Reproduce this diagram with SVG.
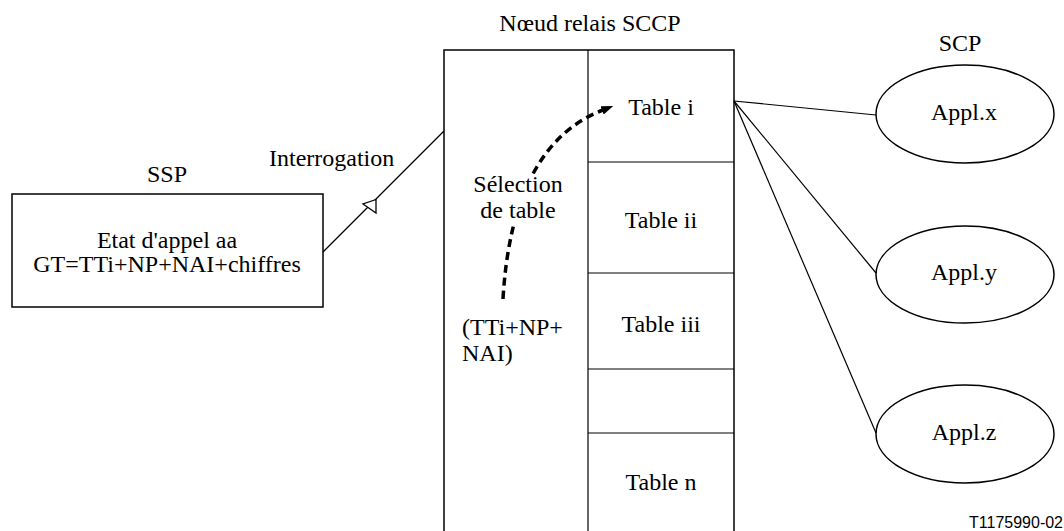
<svg xmlns="http://www.w3.org/2000/svg" width="1064" height="531" viewBox="0 0 1064 531" font-family="'Liberation Serif', 'Times New Roman', serif" font-size="24">
<style>
text{font-family:'Liberation Serif','Times New Roman',serif;font-size:24px;fill:#000}
.c{text-anchor:middle}
.box{fill:#fff;stroke:#000;stroke-width:1.5}
.ln{fill:none;stroke:#000;stroke-width:1.2}
.dash{fill:none;stroke:#000;stroke-width:3.5;stroke-dasharray:8 5}
text.code{font-family:'Liberation Sans',Arial,sans-serif;font-size:16px}
</style>
<defs>
<marker id="solid" markerWidth="12" markerHeight="10" refX="1" refY="5" orient="auto" markerUnits="userSpaceOnUse">
<path d="M0,0.5 L12,5 L0,9.5 Z" fill="#000"/>
</marker>
</defs>
<rect width="1064" height="531" fill="#fff"/>

<g id="ssp">
<text class="c" x="167" y="182">SSP</text>
<rect class="box" x="12" y="194" width="311" height="113"/>
<text class="c" x="167" y="248">Etat d'appel aa</text>
<text class="c" x="167" y="272">GT=TTi+NP+NAI+chiffres</text>
</g>

<g id="sccp">
<text class="c" x="590" y="31">Nœud relais SCCP</text>
<rect class="box" x="444" y="50" width="290" height="490"/>
<line class="ln" x1="588" y1="50" x2="588" y2="531" stroke-width="1.5"/>
<line class="ln" x1="588" y1="162" x2="734" y2="162" stroke-width="1.5"/>
<line class="ln" x1="588" y1="273" x2="734" y2="273" stroke-width="1.5"/>
<line class="ln" x1="588" y1="369" x2="734" y2="369" stroke-width="1.5"/>
<line class="ln" x1="588" y1="433" x2="734" y2="433" stroke-width="1.5"/>
<text class="c" x="661" y="115">Table i</text>
<text class="c" x="661" y="228">Table ii</text>
<text class="c" x="661" y="332">Table iii</text>
<text class="c" x="661" y="490">Table n</text>
</g>

<g id="scp">
<text class="c" x="960" y="51">SCP</text>
</g>
<g id="applx">
<ellipse class="box" cx="965" cy="114" rx="89" ry="49"/>
<text class="c" x="964" y="120">Appl.x</text>
</g>
<g id="apply">
<ellipse class="box" cx="965" cy="274.5" rx="89" ry="48.5"/>
<text class="c" x="964" y="280">Appl.y</text>
</g>
<g id="applz">
<ellipse class="box" cx="965" cy="434" rx="89" ry="49"/>
<text class="c" x="964" y="440">Appl.z</text>
</g>

<g id="connectors">
<line class="ln" x1="323" y1="252" x2="444" y2="131" stroke-width="1.5"/>
<polygon points="376,199.5 363,204 376,213" fill="#fff" stroke="#000" stroke-width="1.3"/>
<line class="ln" x1="734" y1="101" x2="876" y2="115"/>
<line class="ln" x1="734" y1="101" x2="876" y2="273" stroke-width="2"/>
<line class="ln" x1="734" y1="101" x2="876" y2="433"/>
<path class="dash" d="M503,299 Q512,145 603,110" marker-end="url(#solid)"/>
</g>

<g id="labels">
<text x="269" y="166">Interrogation</text>
<rect x="472" y="174" width="94" height="50" fill="#fff"/>
<text class="c" x="518" y="192">Sélection</text>
<text class="c" x="518" y="218">de table</text>
<text x="462" y="335">(TTi+NP+</text>
<text x="462" y="361">NAI)</text>
<text class="code" x="1063" y="528" text-anchor="end">T1175990-02</text>
</g>
</svg>
